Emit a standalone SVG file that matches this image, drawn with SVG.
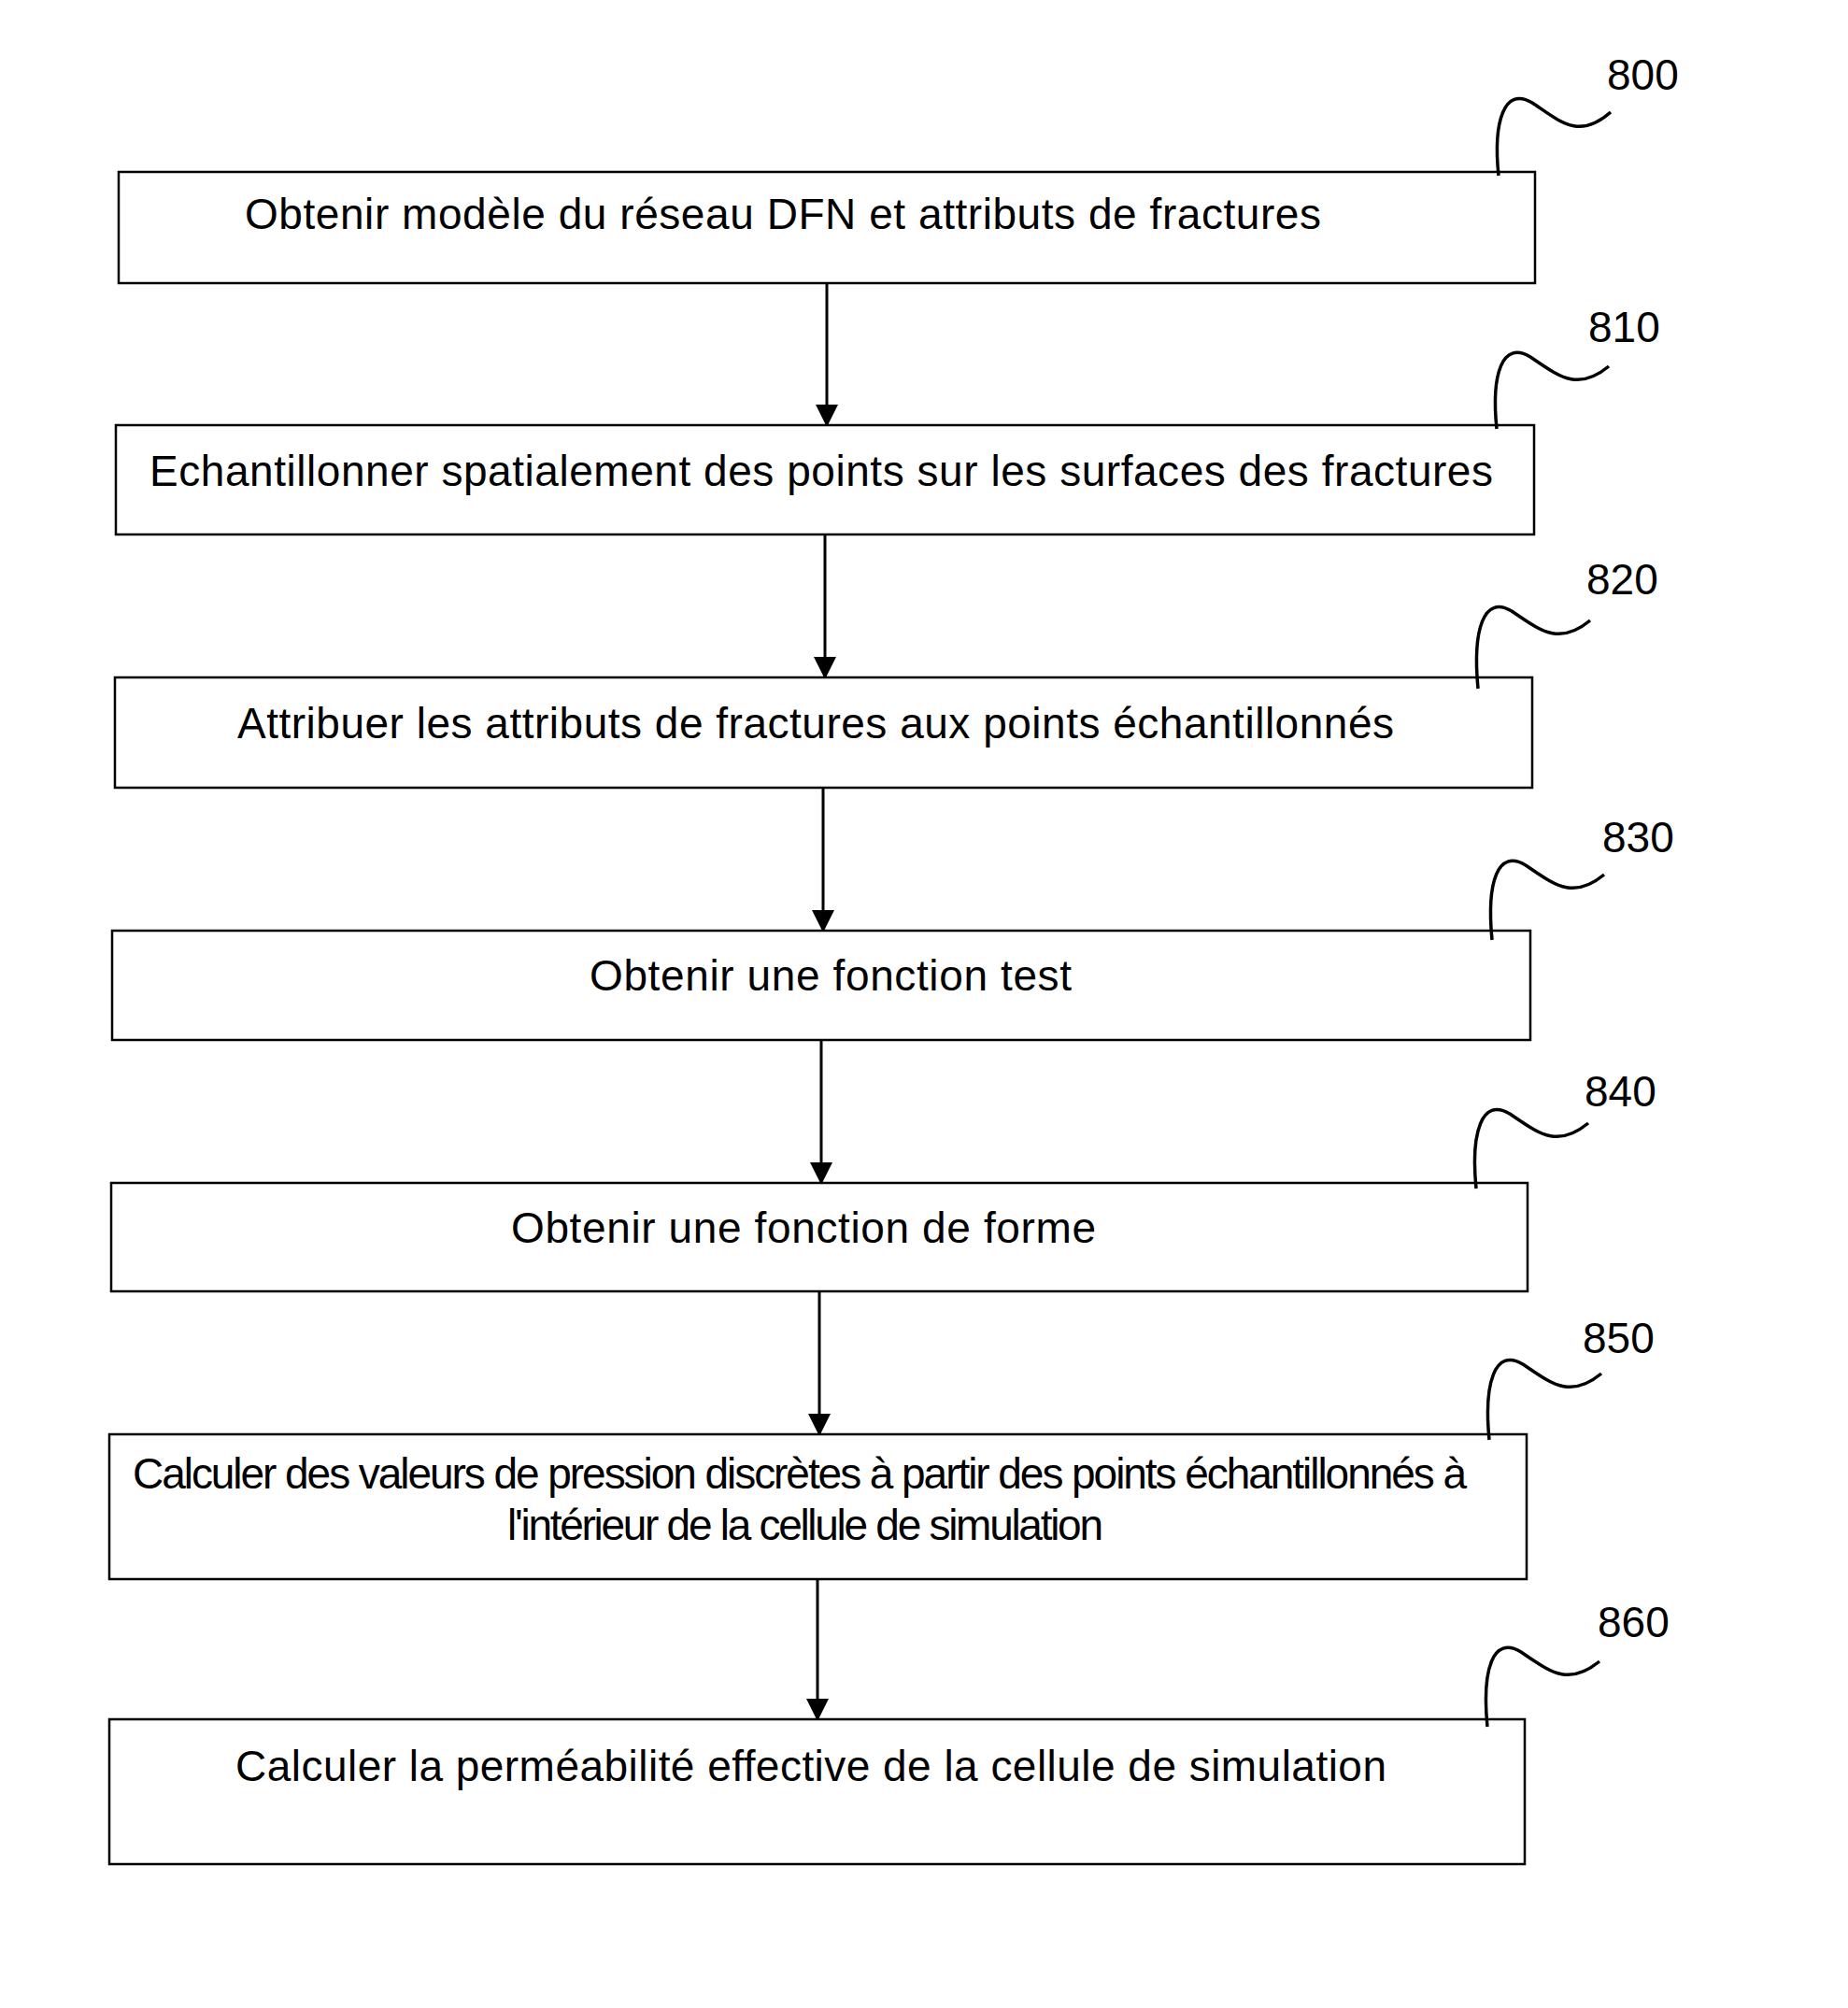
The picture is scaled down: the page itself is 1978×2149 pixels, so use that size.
<svg xmlns="http://www.w3.org/2000/svg" width="1978" height="2149" viewBox="0 0 1978 2149">
<defs>
<marker id="a2" markerWidth="24" markerHeight="24" refX="22" refY="12" orient="auto" markerUnits="userSpaceOnUse" viewBox="0 0 24 24"><path d="M0,0 L24,12 L0,24 L0,0 z" fill="#000"/></marker>
<style>
.box{fill:#fff;stroke:#000;stroke-width:2.5}
text{font-family:"Liberation Sans",Arial,sans-serif;font-size:46px;fill:#000}
.sq{fill:none;stroke:#000;stroke-width:3.5}
.c line{stroke:#000;stroke-width:3;marker-end:url(#a2)}
</style>
</defs>
<rect width="1978" height="2149" fill="#fff"/>
<g class="c">
<line x1="885" y1="303" x2="885" y2="455"/>
<line x1="883" y1="572" x2="883" y2="725"/>
<line x1="881" y1="843" x2="881" y2="996"/>
<line x1="879" y1="1113" x2="879" y2="1266"/>
<line x1="877" y1="1382" x2="877" y2="1535"/>
<line x1="875" y1="1690" x2="875" y2="1840"/>
</g>
<g id="n800"><rect class="box" x="127" y="184" width="1516" height="119"/><text x="262" y="245" textLength="1152">Obtenir modèle du réseau DFN et attributs de fractures</text>
<path class="sq" d="M1604,188 C1598,130 1610,92 1640,110 C1670,130 1690,150 1724,120"/><text x="1720" y="96">800</text></g>
<g id="n810"><rect class="box" x="124" y="455" width="1518" height="117"/><text x="160" y="520" textLength="1438">Echantillonner spatialement des points sur les surfaces des fractures</text>
<path class="sq" d="M1602,459 C1596,400 1608,364 1638,382 C1668,402 1688,420 1722,392"/><text x="1700" y="366">810</text></g>
<g id="n820"><rect class="box" x="123" y="725" width="1517" height="118"/><text x="254" y="790" textLength="1238">Attribuer les attributs de fractures aux points échantillonnés</text>
<path class="sq" d="M1582,737 C1576,674 1588,636 1618,654 C1648,674 1668,692 1702,664"/><text x="1698" y="636">820</text></g>
<g id="n830"><rect class="box" x="120" y="996" width="1518" height="117"/><text x="631" y="1060" textLength="516">Obtenir une fonction test</text>
<path class="sq" d="M1597,1006 C1591,944 1603,908 1633,926 C1663,946 1683,964 1717,936"/><text x="1715" y="912">830</text></g>
<g id="n840"><rect class="box" x="119" y="1266" width="1516" height="116"/><text x="547" y="1330" textLength="626">Obtenir une fonction de forme</text>
<path class="sq" d="M1580,1272 C1574,1212 1586,1174 1616,1192 C1646,1212 1666,1230 1700,1202"/><text x="1696" y="1184">840</text></g>
<g id="n850"><rect class="box" x="117" y="1535" width="1517" height="155"/><text x="142" y="1593" textLength="1428">Calculer des valeurs de pression discrètes à partir des points échantillonnés à</text><text x="543" y="1648" textLength="638">l'intérieur de la cellule de simulation</text>
<path class="sq" d="M1594,1541 C1588,1480 1600,1442 1630,1460 C1660,1480 1680,1498 1714,1470"/><text x="1694" y="1448">850</text></g>
<g id="n860"><rect class="box" x="117" y="1840" width="1515" height="155"/><text x="252" y="1906" textLength="1232">Calculer la perméabilité effective de la cellule de simulation</text>
<path class="sq" d="M1592,1848 C1586,1786 1598,1750 1628,1768 C1658,1788 1678,1806 1712,1778"/><text x="1710" y="1752">860</text></g>
</svg>
